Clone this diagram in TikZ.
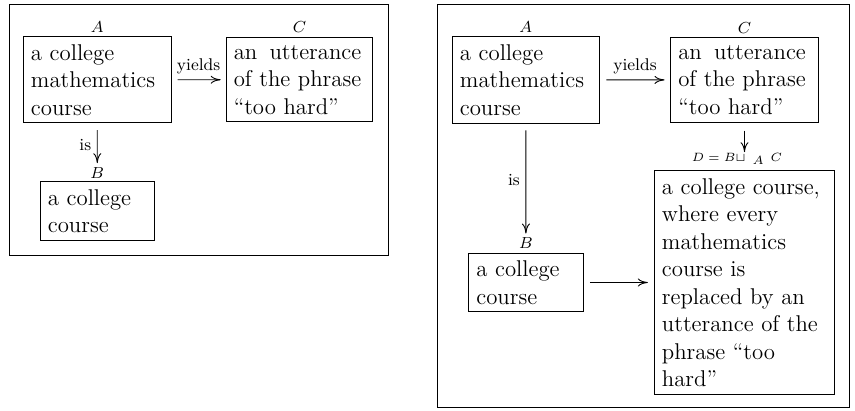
\documentclass[tikz,border=0pt]{standalone}
\usetikzlibrary{arrows.meta}
\newcommand{\stretchline}[3]{{\setbox0\hbox{#1}\hbox to \wd0{#2\hfill #3}}}
\begin{document}
\begin{tikzpicture}[x=0.5pt,y=-0.5pt,
  box/.style={draw, line width=0.45pt, inner sep=3.8pt, align=left,
    font=\fontsize{11.4}{13.75}\selectfont, anchor=center},
  lbl/.style={inner sep=0pt, font=\fontsize{8.5}{10}\selectfont},
  arr/.style={-{To[length=5pt,width=4pt]}, line width=0.45pt},
  elbl/.style={font=\fontsize{8.5}{10}\selectfont, inner sep=2.8pt},
  frame/.style={draw, line width=0.5pt}]
\useasboundingbox (0,0) rectangle (855,411);
% ---------- left diagram ----------
\draw[frame] (9,4.3) rectangle (388.5,255);
\node[box, text width=66.25pt, minimum height=42.5pt] (A1) at (97.2,79.8)
  {a college\\mathematics\\course};
\node[box, text width=65.75pt, minimum height=41.35pt] (C1) at (299.5,79.7)
  {\stretchline{of the phrase}{an}{utterance}\\of the phrase\\``too hard''};
\node[box, text width=49.4pt, minimum height=28.85pt] (B1) at (97.3,211.2)
  {a college\\course};
\node[lbl] (A1l) at (97.2,27.5) {$A$};
\node[lbl] (C1l) at (299.5,27.5) {$C$};
\node[lbl] (B1l) at (97.3,173) {$B$};
\draw[arr, shorten <=3pt, shorten >=2.5pt] (A1) -- node[elbl, above] {yields} (C1);
\draw[arr, shorten <=3.35pt, shorten >=2pt] (A1.south) -- node[elbl, left] {is} (B1l.north);
% ---------- right diagram ----------
\draw[frame] (437.3,4.3) rectangle (849.3,407.3);
\node[box, text width=65.9pt, minimum height=42.3pt] (A2) at (525.8,80)
  {a college\\mathematics\\course};
\node[box, text width=66.2pt, minimum height=41.15pt] (C2) at (744.5,79.85)
  {\stretchline{of the phrase}{an}{utterance}\\of the phrase\\``too hard''};
\node[box, text width=49.55pt, minimum height=29.2pt] (B2) at (525.9,282.5)
  {a college\\course};
\node[box, text width=82.4pt, minimum height=110.8pt] (D2) at (744.3,282.5)
  {a college course,\\where every\\mathematics\\course is\\replaced by an\\utterance of the\\phrase ``too\\hard''};
\node[lbl] (A2l) at (525.8,27) {$A$};
\node[lbl] (C2l) at (744.5,28) {$C$};
\node[lbl] (B2l) at (525.9,242.7) {$B$};
\node[inner sep=0pt, font=\fontsize{6.5}{7.5}\selectfont] (D2l) at (737,159)
  {$D\mathrel{=}B\sqcup$\hspace{3.5pt}\raisebox{-1.5pt}{$A$}\hspace{3.5pt}$C$};
\draw[arr, shorten <=3.35pt, shorten >=2.85pt] (A2) -- node[elbl, above] {yields} (C2);
\draw[arr, shorten <=3.35pt, shorten >=1.65pt] (A2.south) -- node[elbl, left] {is} (B2l.north);
\draw[arr, shorten <=4pt, shorten >=0.4pt] (C2.south) -- (C2.south |- D2l.north);
\draw[arr, shorten <=3.15pt, shorten >=3pt] (B2) -- (D2);
\end{tikzpicture}
\end{document}
